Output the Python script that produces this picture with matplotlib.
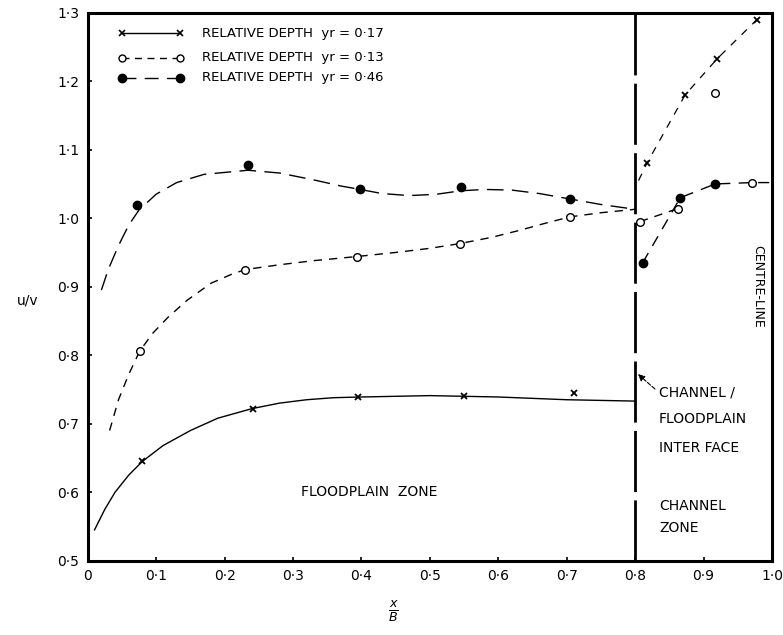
import numpy as np
import matplotlib.pyplot as plt

# marker positions (x/B, u/V)
x_17 = [0.080, 0.241, 0.395, 0.550, 0.710]
y_17 = [0.645, 0.722, 0.739, 0.741, 0.745]
x_13 = [0.076, 0.230, 0.393, 0.544, 0.705]
y_13 = [0.806, 0.925, 0.944, 0.963, 1.002]
x_46 = [0.072, 0.234, 0.398, 0.545, 0.705]
y_46 = [1.020, 1.077, 1.042, 1.046, 1.028]

# channel zone markers
cx_17 = [0.817, 0.873, 0.920, 0.978]
cy_17 = [1.080, 1.180, 1.233, 1.290]
cx_13 = [0.807, 0.862, 0.917, 0.971]
cy_13 = [0.995, 1.014, 1.183, 1.052]
cx_46 = [0.811, 0.866, 0.917]
cy_46 = [0.935, 1.030, 1.050]

# fitted curves
lx_17 = [0.01, 0.025, 0.04, 0.06, 0.08, 0.11, 0.15, 0.19, 0.24, 0.28, 0.32,
         0.36, 0.40, 0.50, 0.60, 0.70, 0.80]
ly_17 = [0.545, 0.575, 0.600, 0.625, 0.645, 0.668, 0.690, 0.708, 0.722, 0.730,
         0.735, 0.738, 0.739, 0.741, 0.739, 0.735, 0.733]
lx_13 = [0.032, 0.045, 0.06, 0.076, 0.095, 0.117, 0.145, 0.18, 0.21, 0.23,
         0.28, 0.33, 0.393, 0.45, 0.50, 0.544, 0.59, 0.63, 0.67, 0.705, 0.75, 0.80]
ly_13 = [0.690, 0.735, 0.772, 0.806, 0.832, 0.855, 0.880, 0.905, 0.918, 0.925,
         0.932, 0.938, 0.944, 0.950, 0.956, 0.963, 0.972, 0.982, 0.993, 1.002,
         1.008, 1.013]
lx_46 = [0.02, 0.03, 0.045, 0.06, 0.075, 0.10, 0.13, 0.17, 0.234, 0.28, 0.33,
         0.37, 0.398, 0.43, 0.47, 0.51, 0.545, 0.58, 0.62, 0.66, 0.705, 0.75, 0.80]
ly_46 = [0.895, 0.925, 0.960, 0.990, 1.012, 1.035, 1.052, 1.064, 1.070, 1.066,
         1.056, 1.047, 1.042, 1.036, 1.033, 1.035, 1.040, 1.042, 1.041, 1.036,
         1.028, 1.020, 1.013]
clx_17 = [0.805, 0.817, 0.873, 0.920, 0.978]
cly_17 = [1.055, 1.080, 1.180, 1.233, 1.290]
clx_13 = [0.807, 0.862]
cly_13 = [0.995, 1.014]
clx_46 = [0.811, 0.866, 0.917, 0.971, 1.0]
cly_46 = [0.935, 1.030, 1.050, 1.052, 1.052]

xticks = [0, 0.1, 0.2, 0.3, 0.4, 0.5, 0.6, 0.7, 0.8, 0.9, 1.0]
xlabels = ['0', '0·1', '0·2', '0·3', '0·4', '0·5', '0·6', '0·7', '0·8', '0·9', '1·0']
yticks = [0.5, 0.6, 0.7, 0.8, 0.9, 1.0, 1.1, 1.2, 1.3]
ylabels = ['0·5', '0·6', '0·7', '0·8', '0·9', '1·0', '1·1', '1·2', '1·3']

legend_txt = ['RELATIVE DEPTH  yr = 0·17',
              'RELATIVE DEPTH  yr = 0·13',
              'RELATIVE DEPTH  yr = 0·46']

fig = plt.figure(figsize=(7.83, 6.35), dpi=100)
ax = fig.add_axes([0.112, 0.117, 0.874, 0.863])

k = 'black'
## curves
ax.plot(lx_17, ly_17, color=k, lw=1.0)
ax.plot(lx_13, ly_13, color=k, lw=1.0, dashes=(6, 5))
ax.plot(lx_46, ly_46, color=k, lw=1.0, dashes=(12, 6))
ax.plot(clx_17, cly_17, color=k, lw=0.9, dashes=(6, 6))
ax.plot(clx_13, cly_13, color=k, lw=1.0, dashes=(6, 5))
ax.plot(clx_46, cly_46, color=k, lw=1.0, dashes=(8, 6))

## markers
ax.plot(x_17, y_17, 'x', color=k, ms=5, mew=1.3)
ax.plot(cx_17, cy_17, 'x', color=k, ms=5, mew=1.3)
ax.plot(x_13, y_13, 'o', mfc='white', mec=k, ms=5.5, mew=1.0)
ax.plot(cx_13, cy_13, 'o', mfc='white', mec=k, ms=5.5, mew=1.0)
ax.plot(x_46, y_46, 'o', color=k, ms=6)
ax.plot(cx_46, cy_46, 'o', color=k, ms=6)

## channel / floodplain interface
ax.axvline(0.8, color=k, lw=2.0, dashes=(22, 3))

## manual legend
ly = [1.270, 1.234, 1.205]
ax.plot([0.05, 0.135], [ly[0], ly[0]], color=k, lw=1.0, marker='x', ms=5, mew=1.2)
ax.plot([0.05, 0.135], [ly[1], ly[1]], color=k, lw=1.0, dashes=(5, 4),
        marker='o', mfc='white', ms=5)
ax.plot([0.05, 0.135], [ly[2], ly[2]], color=k, lw=1.0, dashes=(10, 6),
        marker='o', ms=6)
for i in range(3):
    ax.text(0.167, ly[i], legend_txt[i], fontsize=9.5, va='center', ha='left')

## annotations
ax.text(0.412, 0.60, 'FLOODPLAIN  ZONE', fontsize=10, ha='center', va='center')
ax.text(0.835, 0.745, 'CHANNEL /', fontsize=10, ha='left', va='center')
ax.text(0.835, 0.707, 'FLOODPLAIN', fontsize=10, ha='left', va='center')
ax.text(0.835, 0.665, 'INTER FACE', fontsize=10, ha='left', va='center')
ax.text(0.835, 0.580, 'CHANNEL', fontsize=10, ha='left', va='center')
ax.text(0.835, 0.548, 'ZONE', fontsize=10, ha='left', va='center')
ax.annotate('', xy=(0.801, 0.775), xytext=(0.832, 0.748),
            arrowprops=dict(arrowstyle='-|>', color=k, lw=0.8, ls='--'))
ax.text(0.979, 0.90, 'CENTRE-LINE', fontsize=9, rotation=270,
        ha='center', va='center')

ax.set_xlim(0, 1.0)
ax.set_ylim(0.5, 1.3)
ax.set_xticks(xticks)
ax.set_xticklabels(xlabels, fontsize=10)
ax.set_yticks(yticks)
ax.set_yticklabels(ylabels, fontsize=10)
ax.tick_params(direction='in', length=3, width=1.2, pad=6)
for s in ax.spines.values():
    s.set_linewidth(2.2)

fig.text(0.035, 0.527, 'u/v', fontsize=10, ha='center', va='center')
fig.text(0.502, 0.038, r'$\frac{x}{B}$', fontsize=13, ha='center', va='center')

plt.savefig('out.png', dpi=100)
